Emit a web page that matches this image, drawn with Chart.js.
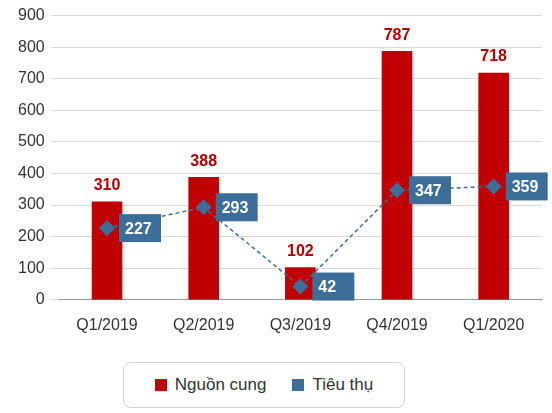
<!DOCTYPE html>
<html><head><meta charset="utf-8">
<script src="https://cdn.jsdelivr.net/npm/chart.js@4"></script>
<style>
body{margin:0;width:552px;height:413px;background:#fff;font-family:"Liberation Sans",Arial,sans-serif;}
#wrap{position:absolute;left:0;top:0;width:552px;height:343px;}
#leg{position:absolute;left:123px;top:362px;width:282px;height:46px;border:1px solid #d0d0d0;border-radius:8px;box-sizing:border-box;display:flex;align-items:center;justify-content:center;font-size:17px;color:#333;}
.sw{display:inline-block;width:12px;height:12px;margin-right:8px;}
</style></head><body>
<div id="wrap"><canvas id="c"></canvas></div>
<div id="leg"><span class="sw" style="background:#C00000"></span>Nguồn cung<span style="width:26px"></span><span class="sw" style="background:#3C6E9A"></span>Tiêu thụ</div>
<script>
const categories=["Q1/2019","Q2/2019","Q3/2019","Q4/2019","Q1/2020"];
const supply=[310,388,102,787,718];
const consumption=[227,293,42,347,359];
const labelsPlugin={id:'lbl',afterDatasetsDraw(ch){
 const ctx=ch.ctx;
 const m0=ch.getDatasetMeta(1), m1=ch.getDatasetMeta(0);
 ctx.save();ctx.font='bold 16px "Liberation Sans",Arial';ctx.textAlign='center';ctx.textBaseline='bottom';ctx.fillStyle='#B00000';
 m0.data.forEach((b,i)=>ctx.fillText(supply[i],b.x,b.y-8));
 ctx.textAlign='left';ctx.textBaseline='middle';
 m1.data.forEach((p,i)=>{const x=p.x+12,y=p.y;ctx.fillStyle='#3C6E9A';ctx.fillRect(x,y-14,42,28);ctx.fillStyle='#fff';ctx.fillText(consumption[i],x+6,y+1);});
 ctx.restore();}};
new Chart(document.getElementById('c'),{
 data:{labels:categories,datasets:[
  {type:'line',label:'Tiêu thụ',data:consumption,borderColor:'#3C6E9A',backgroundColor:'#3C6E9A',borderDash:[4,3],borderWidth:1.5,pointStyle:'rectRot',pointRadius:7,pointHoverRadius:7,order:0},
  {type:'bar',label:'Nguồn cung',data:supply,backgroundColor:'#C00000',barThickness:30,order:1}
 ]},
 options:{responsive:true,maintainAspectRatio:false,animation:false,
  layout:{padding:{top:13,right:10,left:12}},
  plugins:{legend:{display:false},tooltip:{enabled:false}},
  scales:{
   x:{grid:{display:false},border:{color:'#999'},ticks:{color:'#333',font:{size:16},padding:8}},
   y:{min:0,max:900,ticks:{stepSize:100,color:'#333',font:{size:16},padding:6},grid:{color:'#d9d9d9'},border:{display:false}}
  }},
 plugins:[labelsPlugin]});
</script></body></html>
